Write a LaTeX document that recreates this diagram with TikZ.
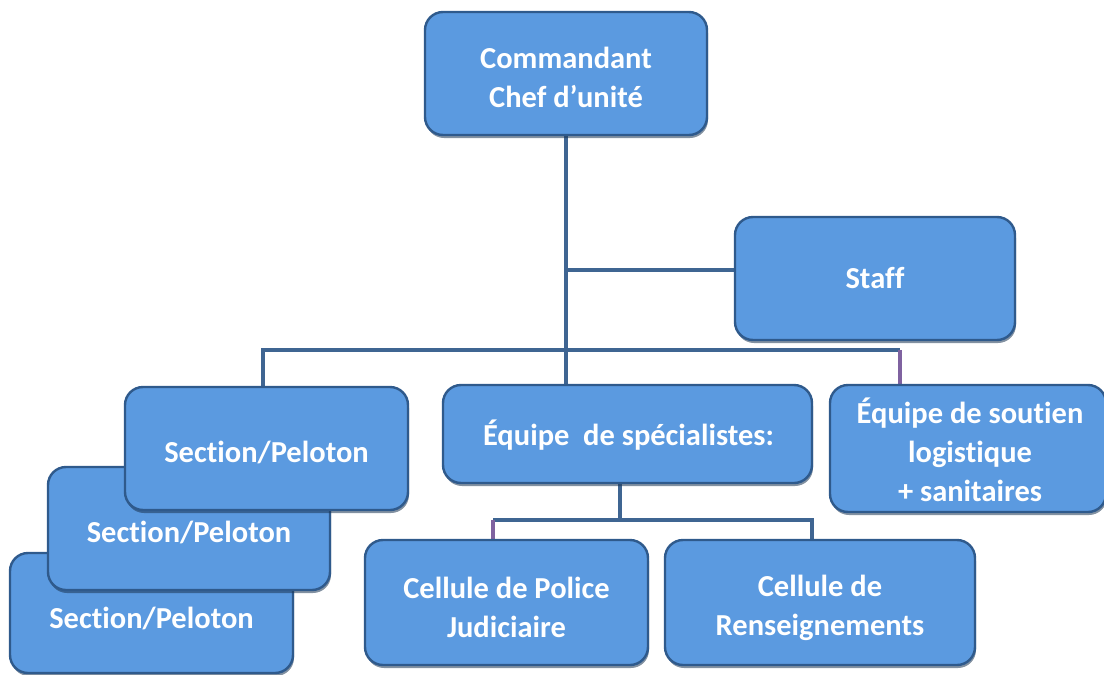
\documentclass[tikz,border=0pt]{standalone}
\usepackage{fontspec}
\setmainfont{Carlito}[Ligatures={NoCommon}]
\usetikzlibrary{shadows,backgrounds}
\definecolor{boxfill}{HTML}{5B9AE0}
\definecolor{boxedge}{HTML}{2F5A8C}
\definecolor{conncol}{HTML}{3F6592}
\definecolor{purp}{HTML}{7F62A0}
\tikzset{
  box/.style={draw=boxedge, line width=2.4pt, fill=boxfill, rounded corners=18pt,
    inner sep=0pt,
    drop shadow={shadow xshift=1pt, shadow yshift=-3pt, fill=boxedge!60!black, opacity=0.55}},
  txt/.style={text=white, font=\fontsize{30.5}{39}\selectfont\bfseries, align=center, inner sep=0pt},
  conn/.style={draw=conncol, line width=4pt},
  pconn/.style={draw=purp, line width=4pt}
}
\begin{document}
\begin{tikzpicture}[x=1pt,y=-1pt]
\useasboundingbox (0,0) rectangle (1104,675);
\coordinate (b1) at (566,270);
\coordinate (hl) at (263,350);
\coordinate (hr) at (900,350);
\coordinate (sb) at (620,520);
\coordinate (cl) at (493,520);
\coordinate (cr) at (812,520);

% boxes
\node[box, minimum width=282pt, minimum height=123pt] (cmd) at (566,73.5) {};
\node[txt] (cmdt) at ([yshift=-4pt]cmd.center) {Commandant\\Chef d’unité};
\node[box, minimum width=280pt, minimum height=123pt] (staff) at (875,278.5) {};
\node[txt] (stafft) at (staff.center) {Staff};
\node[box, minimum width=283pt, minimum height=120pt] (sec3) at (151.5,613) {};
\node[txt] (sec3t) at ([yshift=-5pt]sec3.center) {Section/Peloton};
\node[box, minimum width=282pt, minimum height=123pt] (sec2) at (189,528.5) {};
\node[txt] (sec2t) at ([yshift=-4pt]sec2.center) {Section/Peloton};
\node[box, minimum width=283pt, minimum height=123pt] (sec1) at (266.5,448.5) {};
\node[txt] (sec1t) at ([yshift=-4pt]sec1.center) {Section/Peloton};
\node[box, minimum width=369pt, minimum height=98pt] (spec) at (627.5,434) {};
\node[txt] (spect) at ([xshift=1pt,yshift=-1pt]spec.center) {Équipe\ \ de spécialistes:};
\node[box, minimum width=276pt, minimum height=127pt] (sout) at (968,448.5) {};
\node[txt] (soutt) at ([xshift=2pt,yshift=-1pt]sout.center) {Équipe de soutien\\logistique\\+ sanitaires};
\node[box, minimum width=283pt, minimum height=125pt] (pj) at (506.5,602.5) {};
\node[txt] (pjt) at ([yshift=-5pt]pj.center) {Cellule de Police\\Judiciaire};
\node[box, minimum width=310pt, minimum height=125pt] (ren) at (820,602.5) {};
\node[txt] (rent) at ([yshift=-5.5pt]ren.center) {Cellule de\\Renseignements};

\begin{scope}[on background layer]
\draw[conn] (cmd.south) -- (cmd.south |- spec.north);
\draw[conn] (b1) -- (b1 -| staff.west);
\draw[conn] (hl |- sec1.north) -- (hl) -- (hr);
\draw[pconn] (hr) -- (hr |- sout.north);
\draw[conn] (sb |- spec.south) -- (sb);
\draw[conn] (cl) -- (cr) -- (cr |- ren.north);
\draw[pconn] (cl) -- (cl |- pj.north);
\end{scope}
\end{tikzpicture}
\end{document}
